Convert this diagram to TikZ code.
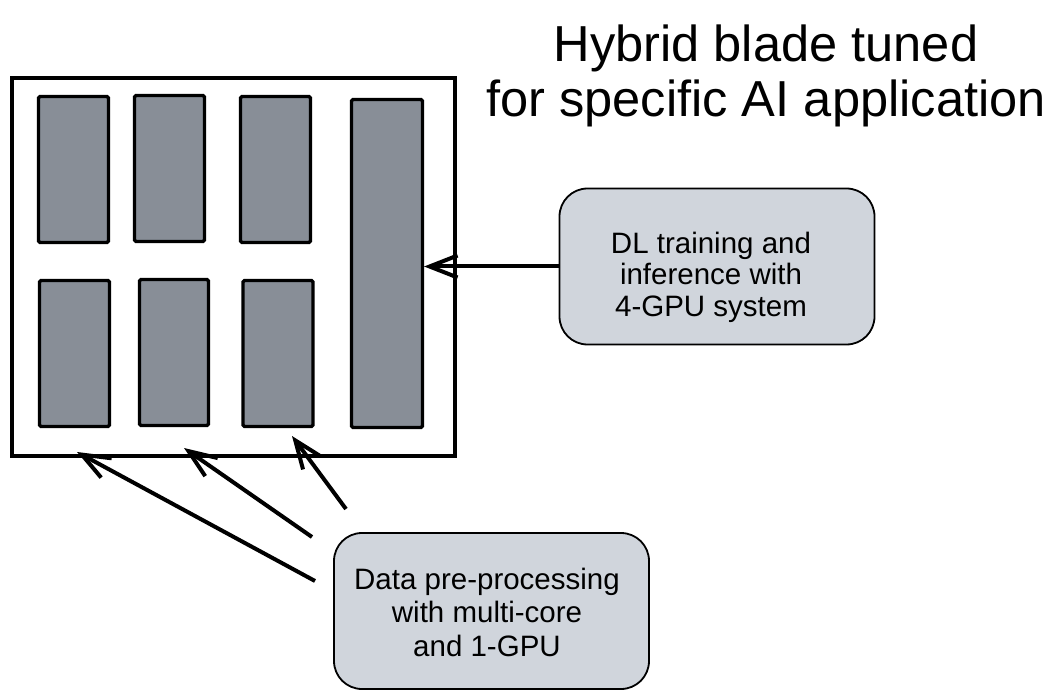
\documentclass[tikz,border=0pt]{standalone}
\usepackage{fontspec}
\setmainfont{Liberation Sans}
\usetikzlibrary{arrows.meta}
\definecolor{gpufill}{RGB}{136,142,151}
\definecolor{boxfill}{RGB}{208,213,220}
\begin{document}
\begin{tikzpicture}[x=1pt,y=-1pt,
  blade/.style={draw=black,line width=4pt,inner sep=0pt,minimum width=443pt,minimum height=378pt},
  gpu/.style={draw=black,fill=gpufill,line width=3.2pt,rounded corners=1.5pt,inner sep=0pt,minimum width=70pt,minimum height=146pt},
  infobox/.style={draw=black,fill=boxfill,line width=1.8pt,rounded corners=28pt,inner sep=0pt,minimum width=315pt,minimum height=156pt},
  boxtext/.style={align=center,inner sep=0pt},
  arr/.style={line width=4pt,-{Straight Barb[length=28pt,width=22pt]}}]
\useasboundingbox (0,0) rectangle (1056,700);
\fill[white] (0,0) rectangle (1056,700);
% title
\node[font=\fontsize{50.6}{55}\selectfont,align=center,inner sep=0pt] (title) at (766,76) {Hybrid blade tuned\\for specific AI application};
% blade
\node[blade] (blade) at (233.5,267) {};
\node[gpu] (t1) at (73.5,169.5) {};
\node[gpu] (t2) at (169.5,168.5) {};
\node[gpu] (t3) at (275.5,169.5) {};
\node[gpu] (b1) at (74.5,353.5) {};
\node[gpu,minimum width=69pt] (b2) at (174,352.5) {};
\node[gpu] (b3) at (278,353.5) {};
\node[gpu,minimum width=71pt,minimum height=328pt] (tall) at (387,263.5) {};
% info boxes
\node[infobox] (dl) at (717,266.5) {};
\node[boxtext,font=\fontsize{29.5}{31.5}\selectfont] (dltext) at (711,277) {DL training and\\inference with\\4-GPU system};
\node[infobox] (data) at (491.5,611) {};
\node[boxtext,font=\fontsize{29.5}{33.5}\selectfont] (datatext) at (487,612) {Data pre-processing\\with multi-core\\and 1-GPU};
% arrows
\draw[arr] (dl.west) -- (dl.west -| tall.east);
\coordinate (s1) at (315,581);
\coordinate (s2) at (312,537);
\coordinate (s3) at (346,509);
\coordinate (e1) at (77,452);
\coordinate (e2) at (184,448);
\coordinate (e3) at (292,436);
\draw[arr] (s1) -- (e1);
\draw[arr] (s2) -- (e2);
\draw[arr] (s3) -- (e3);
\end{tikzpicture}
\end{document}
